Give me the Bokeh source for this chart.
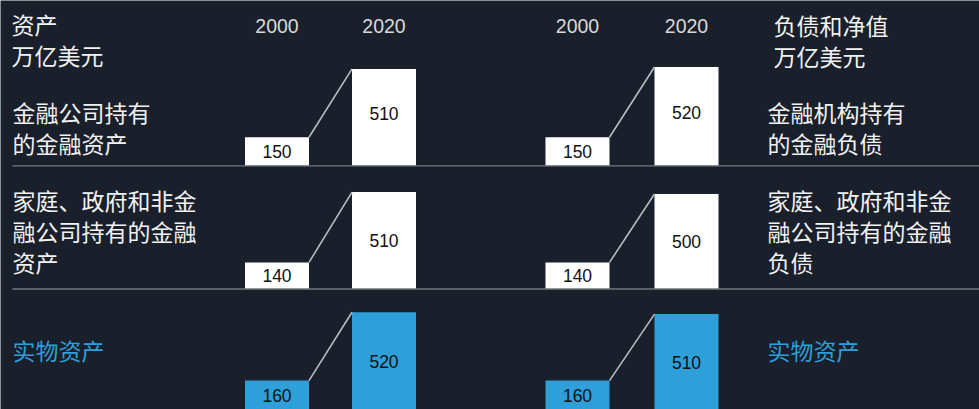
from bokeh.plotting import figure
from bokeh.models import Range1d
from bokeh.core.properties import value
from bokeh.embed import file_html
from bokeh.resources import INLINE

# ---- data ----
years = ["2000", "2020"]
asset_2000 = [150, 140, 160]
asset_2020 = [510, 510, 520]
liab_2000 = [150, 140, 160]
liab_2020 = [520, 500, 510]
asset_labels = ["金融公司持有\n的金融资产", "家庭、政府和非金\n融公司持有的金融\n资产", "实物资产"]
liab_labels = ["金融机构持有\n的金融负债", "家庭、政府和非金\n融公司持有的金融\n负债", "实物资产"]
left_title = "资产\n万亿美元"
right_title = "负债和净值\n万亿美元"

# ---- layout / style ----
BG = "#1a202b"
BLUE = "#2e9fd8"
WHITE = "#ffffff"
GRID = "#74777c"
TXT = "#f2f2f2"
YEAR_TXT = "#d9d9d9"
CJK = "Noto Sans CJK SC"
LAT = "Liberation Sans"

W, H = 979, 409
S = 0.19  # pixels per trillion


def Y(r):
    # pixel row (from top) -> value-space coordinate
    return (H - r) / S


baselines = [Y(165.3), Y(288.5), Y(410.5)]
label_shift = [4 / S, 0, 0]  # small upward nudge of first-row value labels
bar_fill = [WHITE, WHITE, BLUE]
bw = 64
left_x = [276.5, 383.5]
right_x = [577.0, 686.0]

p = figure(width=W, height=H, output_backend="svg", toolbar_location=None,
           x_range=Range1d(0, W), y_range=Range1d(0, H / S),
           min_border=0, min_border_left=0, min_border_right=0,
           min_border_top=0, min_border_bottom=0,
           background_fill_color=BG, border_fill_color=BG, outline_line_color=None)
p.xaxis.visible = False
p.yaxis.visible = False
p.grid.visible = False

# bars
bx, btop, bbot, bcol, lx, ly, ltxt = [], [], [], [], [], [], []
sx0, sy0, sx1, sy1 = [], [], [], []
for i in range(3):
    base = baselines[i]
    for xs, v0, v1 in ((left_x, asset_2000[i], asset_2020[i]), (right_x, liab_2000[i], liab_2020[i])):
        for j, (x, v) in enumerate(zip(xs, (v0, v1))):
            bx.append(x)
            bbot.append(base)
            btop.append(base + v)
            bcol.append(bar_fill[i])
            lx.append(x)
            ly.append(base + v / 2 + (label_shift[i] if j == 1 else 0))
            ltxt.append(str(v))
        sx0.append(xs[0] + bw / 2)
        sy0.append(base + v0)
        sx1.append(xs[1] - bw / 2)
        sy1.append(base + v1)

p.vbar(x=bx, top=btop, bottom=bbot, width=bw, fill_color=bcol, line_color=None)
p.segment(x0=sx0, y0=sy0, x1=sx1, y1=sy1, line_color="#b8bbbf", line_width=1.6)

# separators
p.segment(x0=[12, 12], y0=baselines[:2], x1=[W, W], y1=baselines[:2],
          line_color=GRID, line_width=1.3)

# value labels
p.text(x=lx, y=ly, text=ltxt, text_align="center", text_baseline="middle",
       text_font=value(LAT), text_font_size="17.5px", text_color="#111111")

# year labels
p.text(x=left_x + right_x, y=[Y(25.5)] * 4, text=years + years, text_align="center",
       text_baseline="middle", text_font=value(LAT), text_font_size="19.5px",
       text_color=YEAR_TXT)

# multi-line CJK labels, one text per line
LS = 31  # line spacing in px
tx, ty, tt, tc = [], [], [], []


def add_block(x, first_center, s, color):
    for k, line in enumerate(s.split("\n")):
        tx.append(x)
        ty.append(Y(first_center + k * LS))
        tt.append(line)
        tc.append(color)


add_block(11, 23, left_title, TXT)
add_block(773, 24, right_title, TXT)
row_first = [111, 199, 349]
row_cols = [TXT, TXT, BLUE]
for i in range(3):
    add_block(12, row_first[i], asset_labels[i], row_cols[i])
    add_block(767, row_first[i], liab_labels[i], row_cols[i])

p.text(x=tx, y=ty, text=tt, text_align="left", text_baseline="middle",
       text_font=value(CJK), text_font_size="23px", text_color=tc)

open("out.html", "w").write(file_html(p, INLINE))
